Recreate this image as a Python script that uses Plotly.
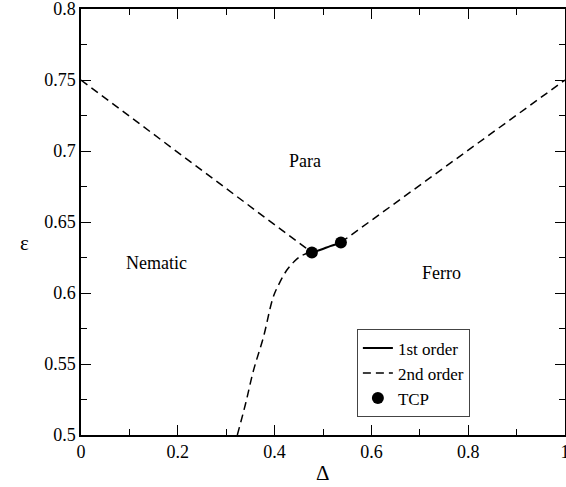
import plotly.graph_objects as go

# Data
left_x = [0.0, 0.477]
left_y = [0.75, 0.6285]
right_x = [0.537, 1.0]
right_y = [0.6356, 0.75]
low_x = [0.323, 0.34, 0.356, 0.377, 0.397, 0.41, 0.425, 0.44, 0.456, 0.477]
low_y = [0.5, 0.522, 0.545, 0.569, 0.597, 0.607, 0.616, 0.622, 0.6264, 0.6285]
first_x = [0.477, 0.495, 0.515, 0.537]
first_y = [0.6285, 0.6305, 0.633, 0.6356]
tcp_x = [0.477, 0.537]
tcp_y = [0.6285, 0.6356]

regions = ["Para", "Nematic", "Ferro"]
region_x = [0.463, 0.157, 0.744]
region_y = [0.693, 0.621, 0.614]

FONT = "Liberation Serif"
dash = "8px,5px"

fig = go.Figure()
fig.add_trace(go.Scatter(x=first_x, y=first_y, mode="lines", name="1st order",
                         line=dict(color="black", width=2, shape="spline")))
fig.add_trace(go.Scatter(x=left_x, y=left_y, mode="lines", name="2nd order",
                         line=dict(color="black", width=1.5, dash=dash)))
fig.add_trace(go.Scatter(x=right_x, y=right_y, mode="lines", showlegend=False,
                         line=dict(color="black", width=1.5, dash=dash)))
fig.add_trace(go.Scatter(x=low_x, y=low_y, mode="lines", showlegend=False,
                         line=dict(color="black", width=1.5, dash=dash, shape="spline")))
fig.add_trace(go.Scatter(x=tcp_x, y=tcp_y, mode="markers", name="TCP",
                         marker=dict(color="black", size=12)))

for t, x, y in zip(regions, region_x, region_y):
    fig.add_annotation(x=x, y=y, text=t, showarrow=False,
                       font=dict(family=FONT, size=18, color="black"))

fig.add_annotation(xref="paper", yref="paper", x=-0.13, y=0.45, text="ε",
                   showarrow=False, font=dict(family=FONT, size=21, color="black"))
fig.add_annotation(xref="paper", yref="paper", x=0.5, y=-0.089, yanchor="middle",
                   text="Δ", showarrow=False, font=dict(family=FONT, size=21, color="black"))

axis_common = dict(showline=True, linecolor="black", linewidth=1.5, mirror="ticks",
                   ticks="inside", ticklen=10, tickcolor="black", tickwidth=1,
                   showgrid=False, zeroline=False, automargin=False,
                   ticklabeloverflow="allow",
                   tickfont=dict(family=FONT, size=18, color="black"))
fig.update_xaxes(range=[0, 1], tickvals=[0, 0.2, 0.4, 0.6, 0.8, 1],
                 ticktext=["0", "0.2", "0.4", "0.6", "0.8", "1"],
                 minor=dict(ticks="inside", ticklen=6, dtick=0.1, tickcolor="black"),
                 **axis_common)
fig.update_yaxes(range=[0.5, 0.8], tickvals=[0.5, 0.55, 0.6, 0.65, 0.7, 0.75, 0.8],
                 ticktext=["0.5", "0.55", "0.6", "0.65", "0.7", "0.75", "0.8"],
                 minor=dict(ticks="inside", ticklen=6, dtick=0.025, tickcolor="black"),
                 **axis_common)

fig.update_layout(
    width=566, height=487,
    margin=dict(l=81, r=1, t=9, b=52),
    plot_bgcolor="white", paper_bgcolor="white",
    font=dict(family=FONT, size=16, color="black"),
    legend=dict(x=0.57, y=0.248, xanchor="left", yanchor="top",
                bordercolor="#444", borderwidth=1, bgcolor="white",
                font=dict(family=FONT, size=17), itemwidth=30,
                tracegroupgap=0),
    showlegend=True,
)

fig.write_html("out.html", config={"displayModeBar": False},
               post_script="document.body.style.margin='0';")
